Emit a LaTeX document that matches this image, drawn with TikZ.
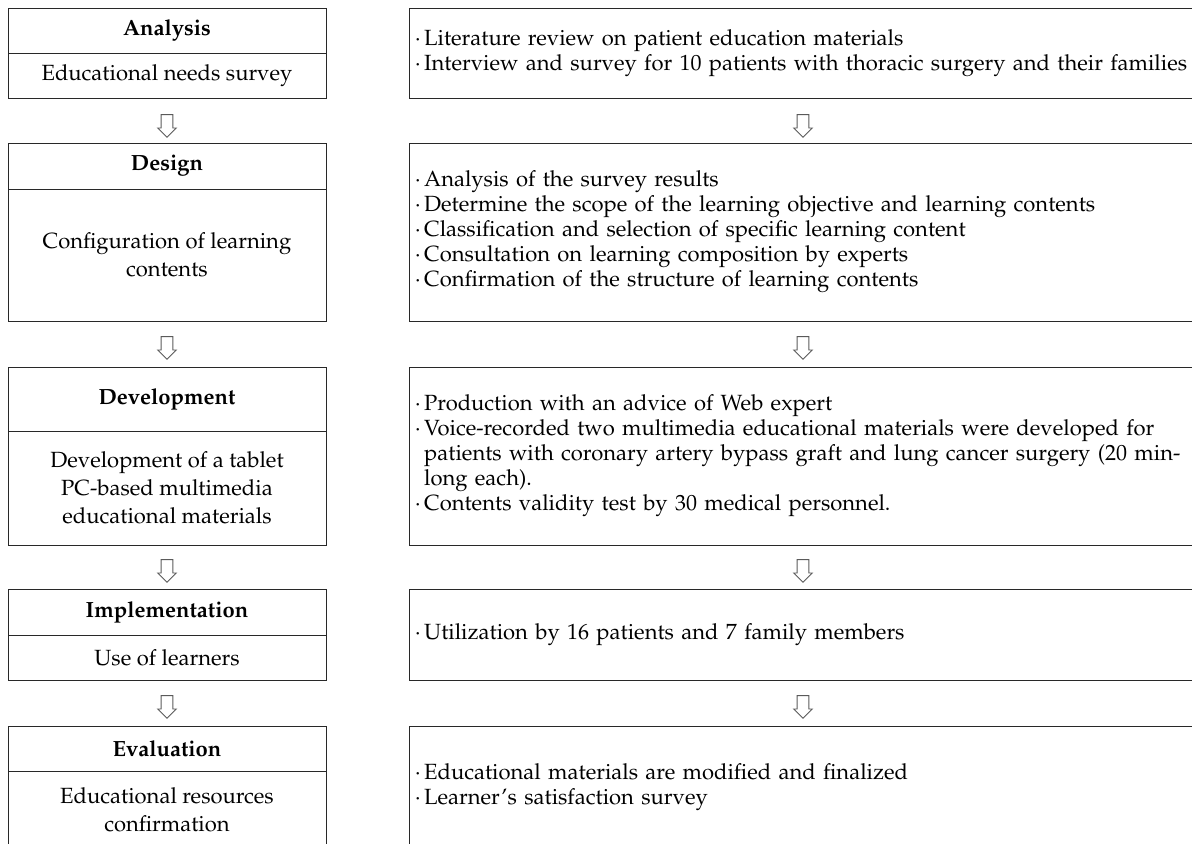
\documentclass[tikz,border=0pt]{standalone}
\usepackage[T1]{fontenc}
\usepackage{mathpazo}
\usetikzlibrary{shapes.arrows}

\tikzset{every picture/.style={line width=0.75pt}}
\tikzset{
  stagehead/.style={draw={rgb,255:red,40;green,40;blue,40}, minimum width=238.5pt, inner sep=0pt, font=\fontsize{16.5}{21}\selectfont\bfseries},
  stagebody/.style={draw={rgb,255:red,40;green,40;blue,40}, minimum width=238.5pt, inner sep=0pt, align=center, font=\fontsize{16.5}{21}\selectfont},
  notebox/.style={draw={rgb,255:red,40;green,40;blue,40}, minimum width=591pt, text width=582pt, inner xsep=4.5pt, inner ysep=0pt, align=left, font=\fontsize{16.5}{18.75}\selectfont},
  flowarrow/.style={single arrow, draw={rgb,255:red,90;green,90;blue,90}, line width=0.6pt, shape border rotate=270, inner sep=4.1pt, minimum height=17pt, minimum width=13.5pt, single arrow head extend=2.6pt}
}
\newcommand{\bul}{\textperiodcentered\,}
\newcommand{\hang}{\phantom{\textperiodcentered\,}}

\begin{document}
\begin{tikzpicture}[x=0.75pt,y=0.75pt,yscale=-1,xscale=1]
\useasboundingbox (0,0) rectangle (1192,843);

% Analysis
\node [stagehead, minimum height=33.75pt] (anahead) at (167,30.5) {Analysis};
\node [stagebody, minimum height=33.75pt] (anabody) at (167,75.5) {Educational needs survey};
\node [notebox, minimum height=67.5pt] (ananote) at (803,53) {\bul Literature review on patient education materials\\
\bul Interview and survey for 10 patients with thoracic surgery and their families};

% Design
\node [stagehead, minimum height=34.5pt] (deshead) at (167,166) {Design};
\node [stagebody, minimum height=99pt] (desbody) at (167,255) {Configuration of learning\\contents};
\node [notebox, minimum height=133.5pt] (desnote) at (803,232) {\bul Analysis of the survey results\\
\bul Determine the scope of the learning objective and learning contents\\
\bul Classification and selection of specific learning content\\
\bul Consultation on learning composition by experts\\
\bul Confirmation of the structure of learning contents};

% Development
\node [stagehead, minimum height=48pt] (devhead) at (167,399) {Development};
\node [stagebody, minimum height=85.5pt] (devbody) at (167,488) {Development of a tablet\\PC-based multimedia\\educational materials};
\node [notebox, minimum height=133.5pt] (devnote) at (803,456) {\bul Production with an advice of Web expert\\
\bul Voice-recorded two multimedia educational materials were developed for\\
\hang patients with coronary artery bypass graft and lung cancer surgery (20 min-\\
\hang long each).\\
\bul Contents validity test by 30 medical personnel.};

% Implementation
\node [stagehead, minimum height=34.5pt] (imphead) at (167,612) {Implementation};
\node [stagebody, minimum height=33.75pt] (impbody) at (167,657.5) {Use of learners};
\node [notebox, minimum height=68.25pt] (impnote) at (803,634.5) {\bul Utilization by 16 patients and 7 family members};

% Evaluation
\node [stagehead, minimum height=33.75pt] (evahead) at (167,748.5) {Evaluation};
\node [stagebody, minimum height=57.75pt] (evabody) at (167,809.5) {Educational resources\\confirmation};
\node [notebox, minimum height=91.5pt] (evanote) at (803,787) {\bul Educational materials are modified and finalized\\
\bul Learner's satisfaction survey};

% arrows between the stages
\node [flowarrow] (a1) at (167,123) {};
\node [flowarrow] (a2) at (167,345) {};
\node [flowarrow] (a3) at (167,568) {};
\node [flowarrow] (a4) at (167,704) {};
\node [flowarrow] (b1) at (803,123) {};
\node [flowarrow] (b2) at (803,345) {};
\node [flowarrow] (b3) at (803,568) {};
\node [flowarrow] (b4) at (803,704) {};

\end{tikzpicture}
\end{document}
